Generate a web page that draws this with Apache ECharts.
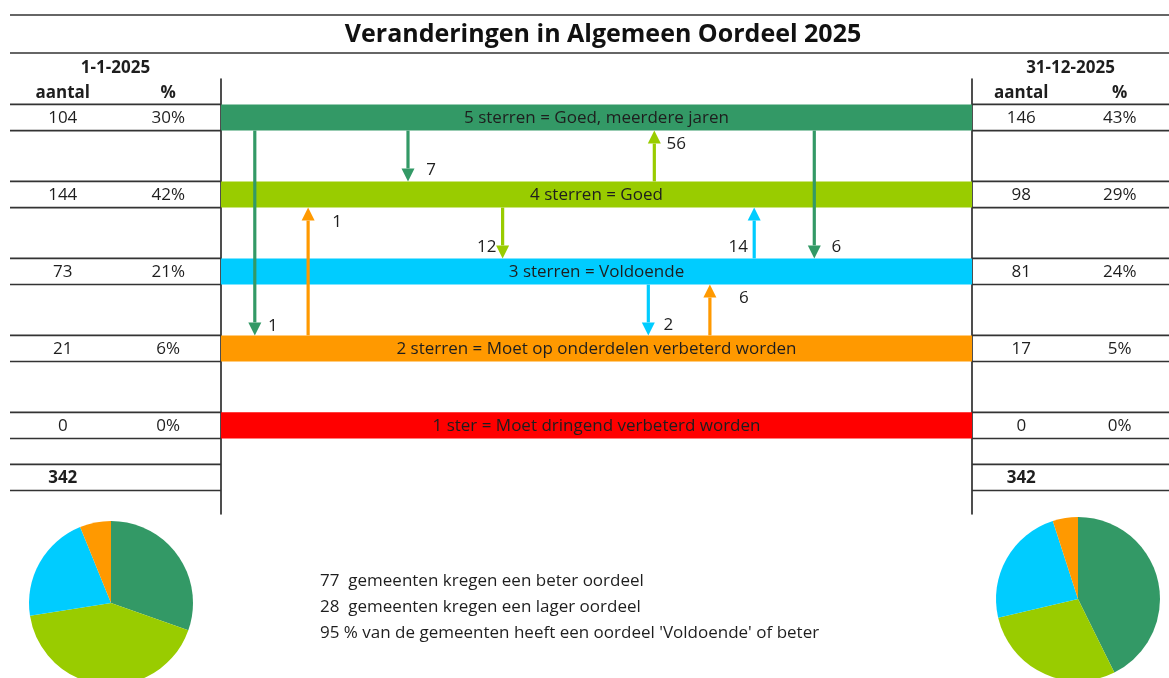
<!DOCTYPE html>
<html><head><meta charset="utf-8">
<script src="https://cdn.jsdelivr.net/npm/echarts@6/dist/echarts.min.js"></script>
<style>html,body{margin:0;padding:0;background:#fff}#c{width:1169px;height:678px}</style>
</head><body><div id="c"></div>
<script>
// ---------- data ----------
const chartTitle = 'Veranderingen in Algemeen Oordeel 2025';
const levels = [5, 4, 3, 2, 1];
const levelLabels = ['5 sterren = Goed, meerdere jaren', '4 sterren = Goed', '3 sterren = Voldoende', '2 sterren = Moet op onderdelen verbeterd worden', '1 ster = Moet dringend verbeterd worden'];
const levelColors = ['#339966', '#99CC00', '#00CCFF', '#FF9900', '#FF0000'];
const countsStart = [104, 144, 73, 21, 0];
const countsEnd = [146, 98, 81, 17, 0];
const columnLabels = ['aantal', '%'];
const dateStart = '1-1-2025';
const dateEnd = '31-12-2025';
// arrows: position along the bars (0-100), from level, to level, number of gemeenten
const arrowPos = [4.5, 24.9, 11.6, 37.5, 57.7, 71.0, 79.0, 56.9, 65.1];
const arrowFrom = [5, 5, 2, 4, 4, 3, 5, 3, 2];
const arrowTo = [2, 4, 4, 3, 5, 4, 3, 2, 3];
const arrowCount = [1, 7, 1, 12, 56, 14, 6, 2, 6];

// ---------- layout / style ----------
const FONT = '"Open Sans"';
const FS = 17;
const TXT = '#1e1e1e';
const H = 0.17;            // half bar height, in level units
const TOTAL_LEVEL = 0.325; // row of the totals
const TY = 1;              // small vertical text nudge (px)
const labelDx = [18, 23, 29, -16, 22, -16, 22, 20, 34];
const labelDy = [-10, -12, 14, -12, 13, 39, -12, -11, 13];
const GRID_TOP = 79, GRID_H = 435;

const total = countsStart.reduce((a, b) => a + b, 0);
const totalEnd = countsEnd.reduce((a, b) => a + b, 0);
let up = 0, down = 0;
arrowCount.forEach((c, i) => { if (arrowTo[i] > arrowFrom[i]) up += c; else down += c; });
const sufficient = Math.round((countsEnd[0] + countsEnd[1] + countsEnd[2]) / totalEnd * 100);

const colorOf = lv => levelColors[levels.indexOf(lv)];

function tableRows(counts, tot) {
  const rows = levels.map((lv, i) => ({ level: lv, count: String(counts[i]), pct: Math.round(counts[i] / tot * 100) + '%', bold: false }));
  rows.push({ level: TOTAL_LEVEL, count: String(tot), pct: '', bold: true });
  return rows;
}
const rowsStart = tableRows(countsStart, total);
const rowsEnd = tableRows(countsEnd, totalEnd);

function makeTableRenderer(rows) {
  return function (params, api) {
    const r = rows[params.dataIndex];
    const lv = r.level;
    const bw = api.size([1, 0])[0];
    const c0 = api.coord([0, lv]);
    const c1 = api.coord([1, lv]);
    const x0 = c0[0] - bw / 2, x1 = c1[0] + bw / 2;
    const yt = api.coord([0, lv + H])[1];
    const yb = api.coord([0, lv - H])[1];
    const ls = { stroke: '#333', lineWidth: 1.6 };
    const txt = (x, t) => ({ type: 'text', style: { x: x, y: c0[1] + TY, text: t, fill: TXT, font: (r.bold ? 'bold ' : '') + FS + 'px ' + FONT, textAlign: 'center', textVerticalAlign: 'middle' } });
    return { type: 'group', children: [
      { type: 'line', shape: { x1: x0, y1: yt, x2: x1, y2: yt }, style: ls },
      { type: 'line', shape: { x1: x0, y1: yb, x2: x1, y2: yb }, style: ls },
      txt(c0[0], r.count),
      txt(c1[0], r.pct)
    ] };
  };
}

function renderBar(params, api) {
  const lv = api.value(0);
  const p0 = api.coord([0, lv + H]);
  const p1 = api.coord([100, lv - H]);
  return { type: 'group', children: [
    { type: 'rect', shape: { x: p0[0], y: p0[1], width: p1[0] - p0[0], height: p1[1] - p0[1] }, style: { fill: colorOf(lv) } },
    { type: 'text', style: { x: (p0[0] + p1[0]) / 2, y: (p0[1] + p1[1]) / 2 + TY, text: levelLabels[levels.indexOf(lv)], fill: TXT, font: FS + 'px ' + FONT, textAlign: 'center', textVerticalAlign: 'middle' } }
  ] };
}

function renderArrow(params, api) {
  const i = params.dataIndex;
  const x = api.value(0), from = api.value(1), to = api.value(2);
  const isUp = to > from;
  const start = api.coord([x, isUp ? from + H : from - H]);
  const tip = api.coord([x, isUp ? to - H : to + H]);
  const dir = isUp ? -1 : 1;
  const hl = 13, hw = 6.5;
  const base = tip[1] - dir * hl;
  const col = colorOf(from);
  return { type: 'group', children: [
    { type: 'line', shape: { x1: start[0], y1: start[1], x2: tip[0], y2: base }, style: { stroke: col, lineWidth: 3.2 } },
    { type: 'polygon', shape: { points: [[tip[0], tip[1]], [tip[0] - hw, base], [tip[0] + hw, base]] }, style: { fill: col } },
    { type: 'text', style: { x: tip[0] + labelDx[i], y: tip[1] + labelDy[i] + TY, text: String(api.value(3)), fill: TXT, font: FS + 'px ' + FONT, textAlign: 'center', textVerticalAlign: 'middle' } }
  ] };
}

const hiddenY = { type: 'value', min: -0.15, max: 5.5, axisLabel: { show: false }, axisTick: { show: false }, splitLine: { show: false } };
const tableX = (gi, name) => ({ type: 'category', gridIndex: gi, data: columnLabels, position: 'top', offset: -26,
  axisLine: { show: false }, axisTick: { show: false },
  axisLabel: { margin: 3, color: TXT, fontFamily: FONT, fontWeight: 'bold', fontSize: FS },
  name: name, nameLocation: 'middle', nameGap: 28,
  nameTextStyle: { color: TXT, fontFamily: FONT, fontWeight: 'bold', fontSize: FS } });

const option = {
  animation: false,
  backgroundColor: '#fff',
  title: [
    { text: chartTitle, left: 598, top: 17, textAlign: 'center', textStyle: { fontFamily: FONT, fontWeight: 'bold', fontSize: 25, color: '#111' } },
    { text: up + '  gemeenten kregen een beter oordeel\n' + down + '  gemeenten kregen een lager oordeel\n' + sufficient + " % van de gemeenten heeft een oordeel 'Voldoende' of beter",
      left: 315, top: 563, textStyle: { fontFamily: FONT, fontWeight: 'normal', fontSize: FS, lineHeight: 26, color: TXT } }
  ],
  graphic: [
    { type: 'line', shape: { x1: 10, y1: 15, x2: 1169, y2: 15 }, style: { stroke: '#333', lineWidth: 1.6 } },
    { type: 'line', shape: { x1: 10, y1: 53, x2: 1169, y2: 53 }, style: { stroke: '#333', lineWidth: 1.6 } }
  ],
  grid: [
    { left: 10, width: 211, top: GRID_TOP, height: GRID_H },
    { left: 221, width: 751, top: GRID_TOP, height: GRID_H },
    { left: 972, width: 207, top: GRID_TOP, height: GRID_H }
  ],
  xAxis: [
    tableX(0, dateStart),
    { type: 'value', gridIndex: 1, min: 0, max: 100, show: false },
    tableX(2, dateEnd)
  ],
  yAxis: [
    Object.assign({ gridIndex: 0, axisLine: { show: false } }, hiddenY),
    Object.assign({ gridIndex: 1, axisLine: { show: true, lineStyle: { color: '#222', width: 1.6 } } }, hiddenY),
    Object.assign({ gridIndex: 2, axisLine: { show: true, lineStyle: { color: '#222', width: 1.6 } } }, hiddenY)
  ],
  series: [
    { type: 'custom', xAxisIndex: 0, yAxisIndex: 0, data: rowsStart.map(r => [0, r.level]), renderItem: makeTableRenderer(rowsStart), clip: false, silent: true },
    { type: 'custom', xAxisIndex: 2, yAxisIndex: 2, data: rowsEnd.map(r => [0, r.level]), renderItem: makeTableRenderer(rowsEnd), clip: false, silent: true },
    { type: 'custom', xAxisIndex: 1, yAxisIndex: 1, data: levels.map(lv => [lv]), renderItem: renderBar, clip: false, silent: true, encode: { x: -1, y: 0 } },
    { type: 'custom', xAxisIndex: 1, yAxisIndex: 1, data: arrowPos.map((x, i) => [x, arrowFrom[i], arrowTo[i], arrowCount[i]]), renderItem: renderArrow, clip: false, silent: true, z: 5, encode: { x: 0, y: [1, 2] } },
    { type: 'pie', center: [111, 603], radius: 82, startAngle: 90, clockwise: true, silent: true, label: { show: false }, labelLine: { show: false },
      itemStyle: { borderWidth: 0 },
      data: levels.map((lv, i) => ({ name: levelLabels[i], value: countsStart[i], itemStyle: { color: levelColors[i] } })) },
    { type: 'pie', center: [1078, 599], radius: 82, startAngle: 90, clockwise: true, silent: true, label: { show: false }, labelLine: { show: false },
      itemStyle: { borderWidth: 0 },
      data: levels.map((lv, i) => ({ name: levelLabels[i], value: countsEnd[i], itemStyle: { color: levelColors[i] } })) }
  ]
};
echarts.init(document.getElementById('c'), null, { renderer: 'canvas' }).setOption(option);
</script></body></html>
